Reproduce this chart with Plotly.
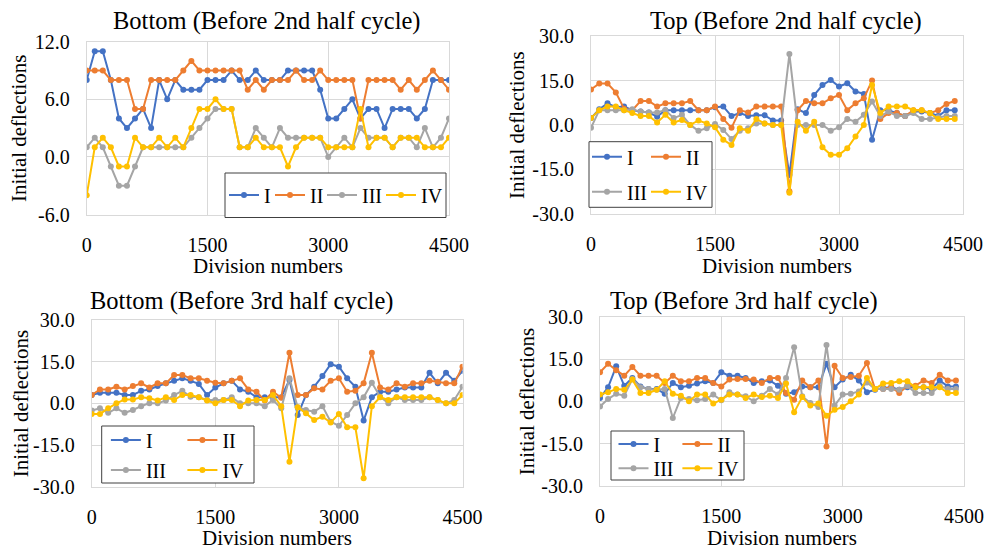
import plotly.graph_objects as go

W, H = 985, 549
FONT = "Liberation Serif, Times New Roman, serif"

# Division numbers sampled every 100 divisions
div_to_4500 = list(range(0, 4600, 100))
div_to_4400 = list(range(0, 4500, 100))

series_names = ["I", "II", "III", "IV"]
series_colors = ["#4472C4", "#ED7D31", "#A5A5A5", "#FFC000"]

# Bottom (Before 2nd half cycle)
b2_I = [8, 11, 11, 8, 4, 3, 4, 5, 3, 8, 6, 8, 7, 7, 7, 8, 8, 8, 9, 8, 8, 9, 8, 8, 8, 9,
        9, 9, 9, 7, 4, 4, 5, 6, 4, 5, 5, 3, 5, 5, 5, 4, 5, 8, 8, 8]
b2_II = [9, 9, 9, 8, 8, 8, 5, 5, 8, 8, 8, 8, 9, 10, 9, 9, 9, 9, 9, 9, 7, 8, 7, 8, 8, 8,
         9, 8, 8, 9, 8, 8, 8, 8, 4, 8, 8, 8, 8, 7, 8, 7, 8, 9, 8, 7]
b2_III = [1, 2, 1, -1, -3, -3, -1, 1, 1, 1, 1, 1, 1, 2, 3, 4, 5, 5, 5, 1, 1, 3, 2, 1, 3, 2,
          2, 2, 2, 2, 0, 1, 2, 1, 3, 2, 2, 2, 1, 2, 2, 1, 3, 1, 2, 4]
b2_IV = [-4, 1, 2, 1, -1, -1, 2, 1, 1, 2, 1, 2, 1, 3, 5, 5, 6, 5, 5, 1, 1, 2, 1, 1, 1, -1,
         1, 2, 2, 2, 1, 1, 1, 1, 5, 1, 2, 2, 1, 2, 2, 2, 1, 1, 1, 2]

# Top (Before 2nd half cycle)
t2_I = [2.3, 5.3, 7.3, 6, 6.2, 5, 4.5, 4.2, 2.8, 5, 5, 5, 5, 5, 5, 6, 6.2, 3, 4, 3, 3.3,
        3.3, 1.5, 1.5, -17, 5.3, 4, 10.1, 13.5, 15.2, 13, 14.1, 11.3, 10.5, -5, 5, 5, 4,
        3, 4.5, 4.5, 4, 3, 5, 5]
t2_II = [12, 14, 14, 11, 5.5, 5, 8.1, 8.1, 6.2, 7.3, 7.3, 7.3, 8.1, 5, 5, 6.2, 2, -1, 5,
         4.2, 6.2, 6.2, 6.2, 6.2, -22.5, 5, 8.1, 7.3, 7.3, 9, 10.1, 5, 7.3, 9, 15, 2, 4,
         4, 3, 5, 5, 4, 5, 7.1, 8.1]
t2_III = [-1, 5, 5, 5, 5, 5.3, 4.5, 4.2, 4.2, 5, 2.3, 3.4, 0, -2, -1.1, 0.3, -1.7, -4.8,
          -2, -1.1, 0.5, 0.5, 0, 0, 24, 0, 0, 0, 0, -2, -0.8, 2, 1.1, 3.4, 7.9, 3, 4.5, 3,
          3, 4, 2, 2, 2.6, 3, 3]
t2_IV = [2.3, 5, 6.2, 6.2, 5, 4, 3, 3, 0.8, 3.4, 0.8, 1.7, 0, 1.5, 0.5, -0.8, -5, -6.8,
         -1.1, -2, 2, 0.5, 0, 0, -23, 1.1, -2, 1.1, -7.6, -10.1, -10.1, -7.9, -3.9, 0,
         13.5, 4, 6.2, 6.2, 6.2, 5, 5, 4, 2, 2, 2]

# Bottom (Before 3rd half cycle)
b3_I = [3, 3.8, 3.8, 3.8, 3, 3, 4.5, 5, 6.2, 7.2, 8.1, 9, 8.1, 7, 3, 5.7, 7.2, 8.1, 5,
        4.2, 2.2, 2.2, 2.2, 2.2, 8.4, -4.2, 3, 6, 9.8, 14.1, 13.2, 9, 6, -6.2, 2.2, 4.2,
        4.2, 5, 5.7, 5.7, 5.7, 11, 7.2, 11, 8.1, 11.7]
b3_II = [3, 5, 5, 6, 5, 6.2, 7.2, 5.7, 7.2, 7.2, 10.2, 10.2, 9, 9, 8.1, 7.4, 7.2, 8.1, 9,
         5, 4.2, 1, 4.2, 2, 18.2, 3, 3, 5.4, 5, 8.1, 9, 4.2, 4.5, 7.2, 18.2, 5.7, 5, 7.2,
         6, 7.2, 7.2, 8.1, 7.8, 7.2, 7.2, 13.2]
b3_III = [-2.6, -1.8, -3.4, -1.8, -3.4, -2.4, -1, 0, 0, 1, 3, 4.5, 2.4, 2.2, 1.2, 1.2,
          1.2, 2.2, 0, 0, 0, -1, 1.2, -1.8, 9, -1.4, -2.4, -3, -1, -6.6, -8.1, -4.2, 0,
          2.2, 7.4, 2.4, 0, 2.2, 1.2, 1.2, 1.2, 2.2, 1.2, 0, 1.2, 6]
b3_IV = [-3.8, -3.8, -1.8, 0, 1.4, 1.4, 2.2, 1.8, 1, 2.2, 1.2, 3, 3, 2.2, 1, 0, 1.2, 1.2,
         -1, 1, 1.2, 1.2, 3, -1, -21, -1.4, -3.6, -6, -4.8, -6.9, -3.8, -8.6, -8.6, -27,
         -1, 2.2, 1.2, 2.2, 2.2, 2.2, 2.2, 2.2, 1.2, 0, 0, 3]

# Top (Before 3rd half cycle)
t3_I = [1.2, 5, 12.4, 5.5, 8.3, 5.3, 4.4, 4.4, 2.7, 6.5, 5, 5.5, 6.3, 7.1, 6.5, 10.3,
        9.1, 9.1, 8.3, 6.5, 7.1, 7.4, 5.5, 2.7, 3.2, 5.3, 5, 5, 13.3, 5, 7.7, 9.4, 7.4,
        3.2, 4.1, 4.7, 5, 4.1, 5, 5, 5, 4.4, 7.4, 5.3, 5.3]
t3_II = [10.3, 13.3, 11, 9.1, 12.2, 9.1, 9.1, 9.1, 6.5, 9.1, 7.1, 7.1, 8.3, 8.3, 6.5,
         5.3, 7.7, 7.9, 7.9, 7.7, 6.5, 8.3, 8.3, 3, 0.6, 7.4, 5, 7.4, -16, 12.6, 8.3,
         8.6, 9.1, 13.6, 4.4, 4.4, 5, 3, 5.5, 5.5, 7.4, 6.5, 9.4, 7.4, 7.4]
t3_III = [-1.8, 0.8, 2.7, 2, 7.9, 5, 4.4, 4.1, 4.4, -5.9, 1.2, 0.8, 0.4, 0.8, 2.4, 0.4,
          3.2, 2.4, 1.8, 0, 2, 4.4, 2.4, 8.3, 19.2, 1.8, -0.6, -2, 20, -1.5, 2.4, 2.7,
          3.5, 6.7, 4.4, 4.4, 4.4, 4.1, 5.5, 3, 3, 3, 5.5, 4.4, 4.4]
t3_IV = [2.4, 3.2, 4.4, 4.1, 7.7, 3, 3, 4.1, 7.1, 2.7, 2, 0, 2.4, 2.4, -0.8, 0.6, 2.4,
         2.4, 1.2, 2.4, 1.5, 2, 1.2, 6.3, -3.9, 1.5, -1.5, -0.8, -5.1, -3, -2, 0, 2.4,
         8.3, 4.4, 6.3, 6.5, 7.1, 7.1, 5, 5, 5, 5, 3, 3]

x_tickvals = [0, 1500, 3000, 4500]
x_ticktext = ["0", "1500", "3000", "4500"]
y_tickvals_small = [-6, 0, 6, 12]
y_ticktext_small = ["-6.0", "0.0", "6.0", "12.0"]
y_tickvals_large = [-30, -15, 0, 15, 30]
y_ticktext_large = ["-30.0", "-15.0", "0.0", "15.0", "30.0"]

x_title = "Division numbers"
y_title = "Initial deflections"


def px_x(p):
    return p / W


def px_y(p):
    return 1 - p / H


# panel layout: title, plot box (left, top, right, bottom in px), y ticks,
# data, legend entry slots and the legend frame
panels = [
    dict(title="Bottom (Before 2nd half cycle)", title_xy=(267, 21),
         box=(86.7, 41.7, 449, 214.5), xdata=div_to_4500,
         ys=[b2_I, b2_II, b2_III, b2_IV], yrange=[-6, 12],
         yt=(y_tickvals_small, y_ticktext_small),
         ytitle_x=19, xtitle_y=266,
         legend_slots=[(224, 195), (270, 195), (322, 195), (381, 195)],
         legend_box=(225, 173, 446, 217.5)),
    dict(title="Top (Before 2nd half cycle)", title_xy=(786, 21),
         box=(591, 36.3, 963, 213.5), xdata=div_to_4400,
         ys=[t2_I, t2_II, t2_III, t2_IV], yrange=[-30, 30],
         yt=(y_tickvals_large, y_ticktext_large),
         ytitle_x=517, xtitle_y=266,
         legend_slots=[(587, 156.7), (646, 156.7), (587, 191.7), (646, 191.7)],
         legend_box=(589, 141.7, 712, 207.3)),
    dict(title="Bottom (Before 3rd half cycle)", title_xy=(241, 301),
         box=(91.7, 320, 462.5, 486.7), xdata=div_to_4500,
         ys=[b3_I, b3_II, b3_III, b3_IV], yrange=[-30, 30],
         yt=(y_tickvals_large, y_ticktext_large),
         ytitle_x=21, xtitle_y=538,
         legend_slots=[(105.9, 440), (182.4, 440), (105.9, 470), (182.4, 470)],
         legend_box=(101.7, 426, 254, 483)),
    dict(title="Top (Before 3rd half cycle)", title_xy=(744, 301),
         box=(600, 316.7, 964, 486), xdata=div_to_4400,
         ys=[t3_I, t3_II, t3_III, t3_IV], yrange=[-30, 30],
         yt=(y_tickvals_large, y_ticktext_large),
         ytitle_x=527, xtitle_y=538,
         legend_slots=[(613.5, 444), (677.4, 444), (613.5, 468.3), (677.4, 468.3)],
         legend_box=(611, 431, 744, 480)),
]

fig = go.Figure()
layout = dict(
    width=W, height=H,
    margin=dict(l=0, r=0, t=0, b=0),
    paper_bgcolor="white", plot_bgcolor="white",
    font=dict(family=FONT, color="black", size=20),
    annotations=[], shapes=[],
)

legend_no = 0
for k, p in enumerate(panels, start=1):
    xa = "x" if k == 1 else f"x{k}"
    ya = "y" if k == 1 else f"y{k}"
    l, t, r, b = p["box"]
    axis_common = dict(
        showgrid=True, gridcolor="#D9D9D9", gridwidth=1,
        showline=True, linecolor="#D9D9D9", linewidth=1, mirror=True,
        zeroline=False, ticks="", automargin=False,
        tickfont=dict(family=FONT, size=20, color="black"),
        ticklabelstandoff=12,
    )
    layout["xaxis" if k == 1 else f"xaxis{k}"] = dict(
        axis_common, domain=[px_x(l), px_x(r)], anchor=ya,
        range=[0, 4500], tickvals=x_tickvals, ticktext=x_ticktext,
    )
    layout["yaxis" if k == 1 else f"yaxis{k}"] = dict(
        axis_common, domain=[px_y(b), px_y(t)], anchor=xa,
        range=p["yrange"], tickvals=p["yt"][0], ticktext=p["yt"][1],
    )

    for s, (name, color, yv) in enumerate(zip(series_names, series_colors, p["ys"])):
        legend_no += 1
        lid = "legend" if legend_no == 1 else f"legend{legend_no}"
        fig.add_trace(go.Scatter(
            x=p["xdata"], y=yv, name=name, mode="lines+markers",
            line=dict(color=color, width=2),
            marker=dict(color=color, size=6),
            xaxis=xa, yaxis=ya, legend=lid, showlegend=True,
        ))
        lx, ly = p["legend_slots"][s]
        layout[lid] = dict(
            x=px_x(lx), y=px_y(ly), xanchor="left", yanchor="middle",
            xref="paper", yref="paper",
            bgcolor="rgba(0,0,0,0)", borderwidth=0,
            font=dict(family=FONT, size=20, color="black"),
            itemwidth=30,
        )

    bl, bt, br, bb = p["legend_box"]
    layout["shapes"].append(dict(
        type="rect", xref="paper", yref="paper",
        x0=px_x(bl), x1=px_x(br), y0=px_y(bb), y1=px_y(bt),
        line=dict(color="#404040", width=1), fillcolor="white", layer="above",
    ))

    tx, ty = p["title_xy"]
    layout["annotations"].append(dict(
        text=p["title"], x=px_x(tx), y=px_y(ty), xref="paper", yref="paper",
        xanchor="center", yanchor="middle", showarrow=False,
        font=dict(family=FONT, size=24.5, color="black"),
    ))
    layout["annotations"].append(dict(
        text=x_title, x=px_x((l + r) / 2), y=px_y(p["xtitle_y"]),
        xref="paper", yref="paper", xanchor="center", yanchor="middle",
        showarrow=False, font=dict(family=FONT, size=21, color="black"),
    ))
    layout["annotations"].append(dict(
        text=y_title, x=px_x(p["ytitle_x"]), y=px_y((t + b) / 2),
        xref="paper", yref="paper", xanchor="center", yanchor="middle",
        textangle=-90, showarrow=False,
        font=dict(family=FONT, size=21, color="black"),
    ))

fig.update_layout(**layout)
fig.write_html("out.html")
